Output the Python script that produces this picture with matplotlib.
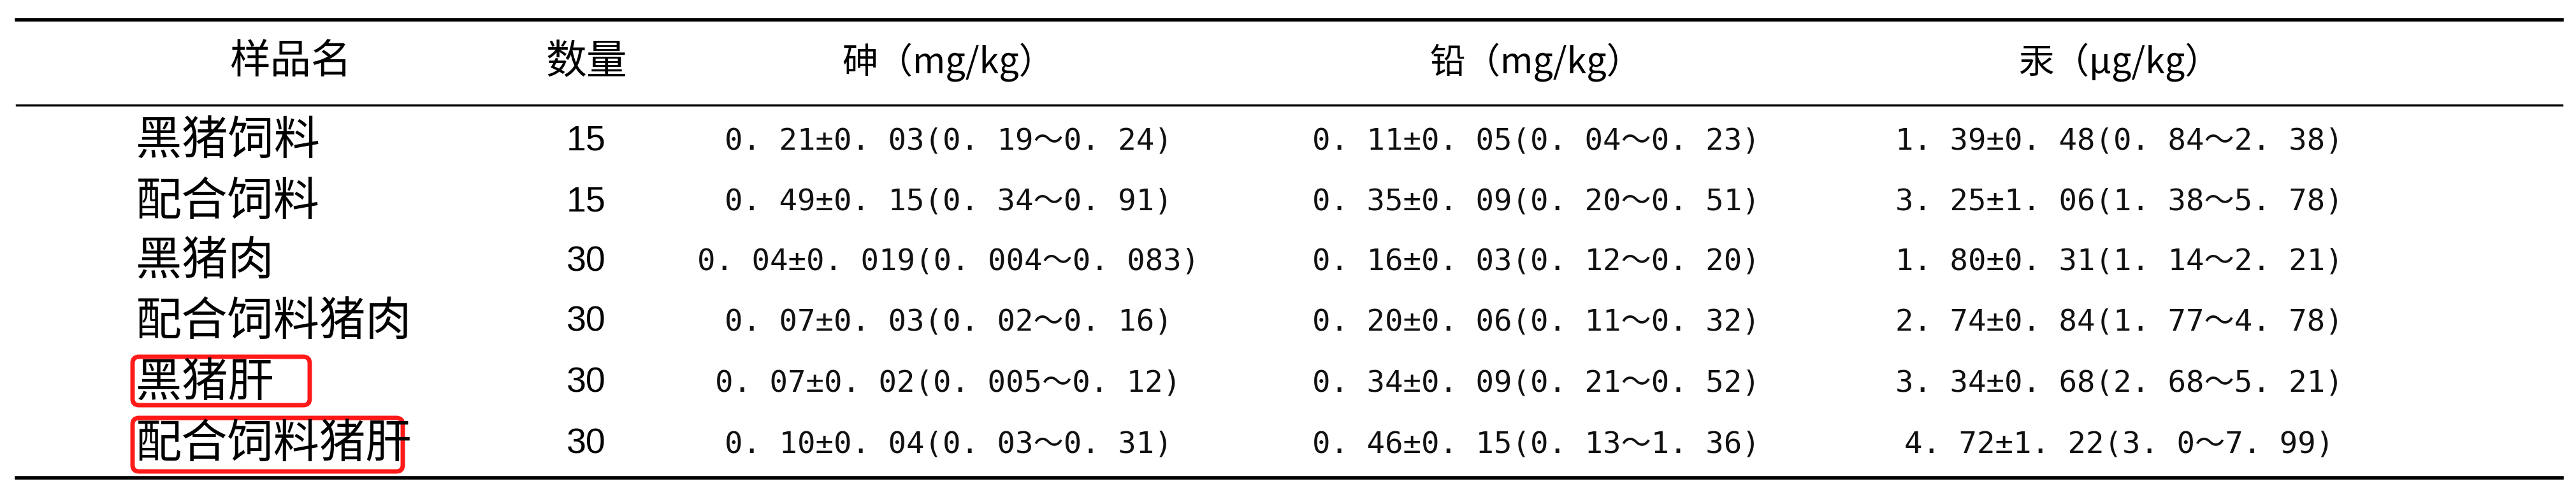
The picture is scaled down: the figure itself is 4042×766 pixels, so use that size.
import matplotlib
matplotlib.use("Agg")
import matplotlib.pyplot as plt
from matplotlib.patches import FancyBboxPatch

plt.rcParams['font.family'] = ['Noto Sans CJK SC', 'DejaVu Sans']

headers = ["样品名", "数量", "砷(mg/kg)", "铅(mg/kg)", "汞(μg/kg)"]
names = ["黑猪饲料", "配合饲料", "黑猪肉", "配合饲料猪肉", "黑猪肝", "配合饲料猪肝"]
counts = ["15", "15", "30", "30", "30", "30"]
arsenic = ["0.21±0.03(0.19～0.24)", "0.49±0.15(0.34～0.91)", "0.04±0.019(0.004～0.083)",
           "0.07±0.03(0.02～0.16)", "0.07±0.02(0.005～0.12)", "0.10±0.04(0.03～0.31)"]
lead = ["0.11±0.05(0.04～0.23)", "0.35±0.09(0.20～0.51)", "0.16±0.03(0.12～0.20)",
        "0.20±0.06(0.11～0.32)", "0.34±0.09(0.21～0.52)", "0.46±0.15(0.13～1.36)"]
mercury = ["1.39±0.48(0.84～2.38)", "3.25±1.06(1.38～5.78)", "1.80±0.31(1.14～2.21)",
           "2.74±0.84(1.77～4.78)", "3.34±0.68(2.68～5.21)", "4.72±1.22(3.0～7.99)"]
highlighted = [4, 5]

W, H = 4042, 766
fig = plt.figure(figsize=(W / 100, H / 100), dpi=100)
ax = fig.add_axes([0, 0, 1, 1])
ax.set_xlim(0, W)
ax.set_ylim(H, 0)
ax.axis('off')

col_x = [456, 920, 1488, 2410, 3325]
header_y = 98
row_y = [222, 317, 411, 506, 602, 698]
name_left = 213

ax.plot([26, 4020], [31, 31], color='black', lw=4)
ax.plot([26, 4020], [165, 165], color='black', lw=2.5)
ax.plot([26, 4020], [750, 750], color='black', lw=4)

mono = ['DejaVu Sans Mono', 'Noto Sans CJK SC', 'DejaVu Sans']
for x, h in zip(col_x, headers):
    if '(' in h:
        ax.text(x, header_y, h.replace('(', '（').replace(')', '）'), ha='center', va='center',
                fontsize=40, color='black')
    else:
        ax.text(x, header_y, h, ha='center', va='center', fontsize=46, color='black')

for i, y in enumerate(row_y):
    ax.text(name_left, y, names[i], ha='left', va='center', fontsize=52, color='black')
    ax.text(col_x[1], y, counts[i], ha='center', va='center', fontsize=40,
            family=['Liberation Sans Narrow', 'Liberation Sans', 'DejaVu Sans'])
    for x, col in zip(col_x[2:], [arsenic, lead, mercury]):
        ax.text(x, y, col[i].replace('.', '. '), ha='center', va='center', fontsize=34,
                family=mono, color='#111111')

boxes = {4: (208, 560, 278, 76), 5: (208, 656, 424, 84)}
for i in highlighted:
    bx, by, bw, bh = boxes[i]
    ax.add_patch(FancyBboxPatch((bx, by), bw, bh, boxstyle="round,pad=0,rounding_size=10",
                                fill=False, edgecolor='#ff1a1a', lw=5))

fig.savefig("out.png", dpi=100)
